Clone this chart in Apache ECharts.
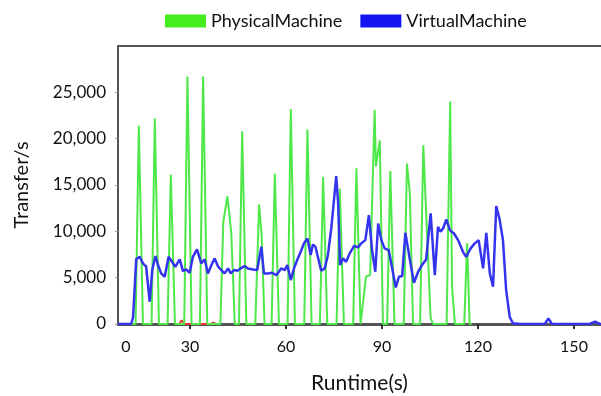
<!DOCTYPE html>
<html>
<head>
<meta charset="utf-8">
<script src="https://cdn.jsdelivr.net/npm/echarts@6/dist/echarts.min.js"></script>
<style>
html,body{margin:0;padding:0;background:#fff;}
#chart{width:601px;height:396px;}
</style>
</head>
<body>
<div id="chart"></div>
<script>
// Runtime (s) vs Transfer/s
const seriesNames = ['PhysicalMachine', 'VirtualMachine'];
const xTickValues = [30, 60, 90, 120, 150];
const xLabelValues = [10, 30, 60, 90, 120, 150];
const xLabelTexts = ['0', '30', '60', '90', '120', '150'];

const physicalMachine = [
  [7.5,0],[13,0],[14,21400],[15.3,0],[18,0],[19,22200],[20.3,0],[23,0],[24,16100],[25.3,0],
  [28.2,0],[29.2,26700],[30.5,0],[33.1,0],[34.1,26700],[35.4,0],[39.5,0],[40.4,11000],
  [41.7,13800],[42.9,9800],[44,0],[45.3,0],[46.3,20800],[47.6,0],[50.4,0],[51.6,12900],
  [52.4,9500],[53.3,0],[55.5,0],[56.5,16200],[57.8,0],[60.5,0],[61.5,23200],[62.8,0],
  [65.7,0],[66.7,21000],[68,0],[70.6,0],[71.6,15900],[72.9,0],[75.8,0],[76.8,14600],
  [78.1,0],[81,0],[82,16800],[83.3,0],[83.8,0],[85,5100],[86.3,5300],[87.7,23100],
  [88.1,17000],[89.3,19800],[90.3,0],[91.6,0],[92.6,16500],[93.9,0],[96.8,0],[97.8,17300],
  [98.7,14100],[99.7,0],[101.9,0],[102.9,19300],[105.2,600],[106,0],[110.2,0],[111.3,24000],
  [111.9,4000],[112.8,0],[115.7,0],[116.6,8700],[117.4,0],[118,0]
];

const virtualMachine = [
  [7.5,0],[11.6,0],[12.2,700],[13.2,7000],[14.3,7250],[15.3,6540],[16.3,6180],[17.4,2400],
  [18.2,5820],[19.2,7330],[20.0,6360],[21.0,5460],[22.1,5100],[23.3,7250],[24.4,6710],
  [25.4,6180],[26.8,6970],[27.8,5710],[28.8,5890],[29.9,5530],[30.9,7250],[32.2,8050],
  [33.5,6540],[34.6,6970],[35.6,5460],[36.7,6360],[37.7,7080],[38.8,6180],[39.8,5820],
  [40.8,5460],[41.9,6000],[42.7,5460],[43.8,5820],[44.8,5750],[45.8,6000],[47.1,6250],
  [48.1,6000],[49.7,5890],[51.0,5820],[52.3,8330],[53.1,5460],[54.4,5460],[55.6,5530],
  [57.0,5280],[57.6,5080],[58.5,6000],[59.6,5820],[60.4,6360],[61.5,4740],[62.5,6000],
  [63.5,6900],[64.6,7790],[65.6,8700],[66.7,9240],[67.7,7440],[68.4,8590],[69.2,8330],
  [70.2,6900],[71.0,5750],[72.1,6000],[73.1,7440],[74.2,10490],[75.7,15950],[76.3,13000],
  [76.9,6360],[77.8,7080],[78.8,6710],[79.9,7620],[81.3,8440],[82.5,8270],[83.5,8700],
  [84.8,9050],[85.9,11750],[86.9,7970],[87.9,5640],[88.8,10850],[89.8,9050],[90.8,8160],
  [92.1,7970],[92.9,6540],[94.3,3950],[95.3,5100],[96.3,5170],[97.3,9840],[98.7,6970],
  [100.0,4450],[101.3,5640],[102.5,6360],[103.8,6970],[105.2,11930],[106.5,5280],
  [107.5,10490],[108.3,9950],[109.1,10310],[110.1,11280],[111.2,10130],[112.5,9770],
  [113.8,9050],[115.3,7790],[116.3,7250],[117.7,8160],[119.0,8700],[120.2,9050],
  [121.6,6000],[122.6,9840],[123.7,5460],[124.7,4020],[125.7,12720],[126.8,11210],
  [127.8,9050],[128.8,3660],[129.9,790],[130.9,80],[133.1,0],[140.9,0],[142.0,600],
  [143.1,0],[154.9,0],[156.6,250],[158.1,0],[158.5,0]
];

const otherSeries = [
  [25.5,0],[26.6,0],[27.4,400],[28.2,0],[36.5,0],[37.2,150],[38,0]
];

const chart = echarts.init(document.getElementById('chart'));
const fontFam = 'Lato, "Open Sans", sans-serif';
chart.setOption({
  animation: false,
  backgroundColor: '#ffffff',
  legend: {
    data: seriesNames,
    left: 165,
    top: 12,
    padding: 0,
    itemWidth: 41,
    itemHeight: 13,
    itemGap: 18,
    icon: 'rect',
    textStyle: { fontFamily: fontFam, fontSize: 18, color: '#111' }
  },
  grid: {
    left: 118, top: 46, width: 483, height: 278,
    outerBoundsMode: 'none', containLabel: false
  },
  xAxis: [{
    type: 'value',
    min: 7.5,
    max: 158.44,
    name: 'Runtime(s)',
    nameLocation: 'middle',
    nameGap: 49,
    nameTextStyle: { fontFamily: fontFam, fontSize: 21, color: '#111' },
    splitLine: { show: false },
    axisLine: { show: true, lineStyle: { color: '#555', width: 3 } },
    axisTick: { show: true, customValues: xTickValues, length: 5, lineStyle: { color: '#333', width: 2 } },
    axisLabel: {
      customValues: xLabelValues,
      formatter: function (v) { const i = xLabelValues.indexOf(v); return i >= 0 ? xLabelTexts[i] : ''; },
      fontFamily: fontFam, fontSize: 16, color: '#111', margin: 15
    }
  }, {
    type: 'value',
    position: 'top',
    min: 7.5,
    max: 158.44,
    splitLine: { show: false },
    axisLine: { show: true, onZero: false, lineStyle: { color: '#555', width: 2 } },
    axisTick: { show: false },
    axisLabel: { show: false }
  }],
  yAxis: {
    type: 'value',
    min: 0,
    max: 30000,
    interval: 5000,
    name: 'Transfer/s',
    nameLocation: 'middle',
    nameGap: 86,
    nameTextStyle: { fontFamily: fontFam, fontSize: 20, color: '#111' },
    splitLine: { show: false },
    axisLine: { show: true, lineStyle: { color: '#555', width: 2 } },
    axisTick: { show: true, length: 3, lineStyle: { color: '#999', width: 1 } },
    axisLabel: {
      showMaxLabel: false,
      formatter: function (v) { return v.toLocaleString('en-US'); },
      fontFamily: fontFam, fontSize: 17, color: '#111', margin: 12
    }
  },
  series: [
    {
      name: seriesNames[0], type: 'line', data: physicalMachine, showSymbol: false,
      itemStyle: { color: '#44ee1c' },
      lineStyle: { color: '#4ee84a', width: 2 }, z: 2
    },
    {
      name: seriesNames[1], type: 'line', data: virtualMachine, showSymbol: false,
      itemStyle: { color: '#1414f2' },
      lineStyle: { color: '#3434ee', width: 2.5 }, z: 3
    },
    {
      name: 'other', type: 'line', data: otherSeries, showSymbol: false,
      itemStyle: { color: '#ee3333' },
      lineStyle: { color: '#ee3333', width: 2 }, z: 1
    }
  ]
});
</script>
</body>
</html>
